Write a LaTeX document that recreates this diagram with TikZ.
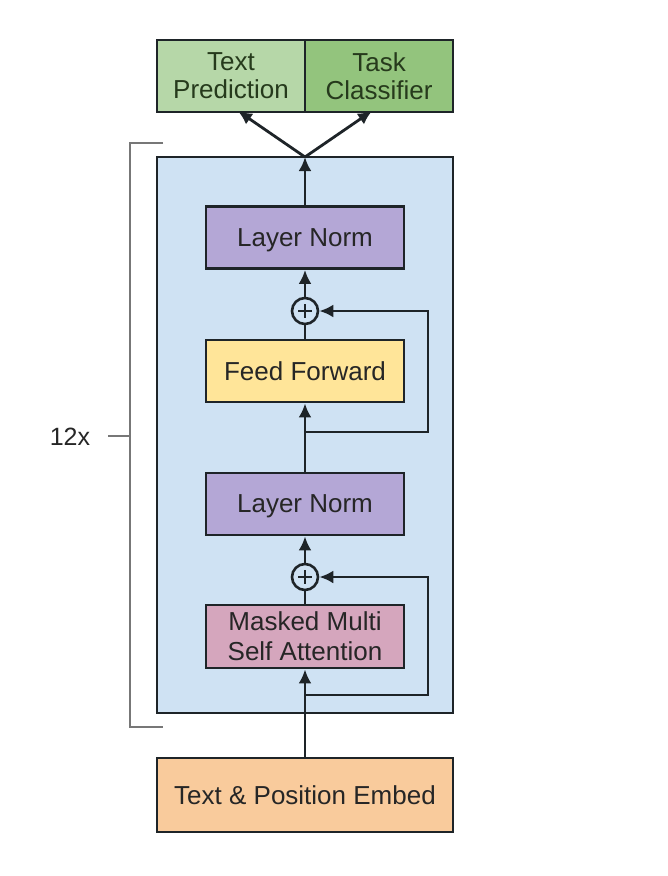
\documentclass[tikz,border=0pt]{standalone}
\usepackage{fontspec}
\setmainfont{Liberation Sans}
\usetikzlibrary{arrows.meta,calc}
\definecolor{edge}{HTML}{1E2428}
\definecolor{txt}{HTML}{262626}
\definecolor{gtxt}{HTML}{263A1C}
\definecolor{gl}{HTML}{B6D7A8}
\definecolor{gd}{HTML}{93C47D}
\definecolor{bluebg}{HTML}{CFE2F3}
\definecolor{purp}{HTML}{B4A7D6}
\definecolor{yel}{HTML}{FFE599}
\definecolor{pink}{HTML}{D5A6BD}
\definecolor{orng}{HTML}{F9CB9C}
\definecolor{brk}{HTML}{777777}
\begin{document}
\begin{tikzpicture}[x=1pt,y=-1pt,
  box/.style={draw=edge,line width=2.8pt,inner sep=0pt,align=center,text=txt,
     font=\fontsize{26}{30}\selectfont},
  oneline/.style={text depth=0pt},
  inner/.style={box,minimum width=198pt,minimum height=62pt},
  plus/.style={draw=edge,line width=2.6pt,circle,minimum size=26pt,inner sep=0pt,fill=bluebg},
  arr/.style={draw=edge,line width=2.8pt,-{Latex[length=14pt,width=13pt]}},
  ln/.style={draw=edge,line width=2.8pt},
  bk/.style={draw=brk,line width=2pt}]
\useasboundingbox (0,0) rectangle (668,876);
\fill[white] (0,0) rectangle (668,876);
% blue container
\node[box,fill=bluebg,minimum width=296pt,minimum height=556pt] (blue) at (305,435) {};
% heads
\node[box,fill=gl,minimum width=148pt,minimum height=72pt,text=gtxt] (tp) at (231,76) {\raisebox{-2pt}{Text}\\[0pt]Prediction};
\node[box,fill=gd,minimum width=148pt,minimum height=72pt,text=gtxt] (tc) at (379,76) {\raisebox{-2pt}{Task}\\[0pt]Classifier};
% blocks
\node[inner,oneline,fill=purp] (ln1) at (305,237.5) {Layer Norm};
\node[plus] (p1) at (305,311) {};
\node[inner,oneline,fill=yel] (ff) at (305,371) {Feed Forward};
\node[inner,oneline,fill=purp] (ln2) at (305,504) {Layer Norm};
\node[plus] (p2) at (305,577) {};
\node[inner,fill=pink,minimum height=63pt] (mm) at (305,636.5) {Masked Multi\\[0pt]Self Attention};
\node[box,oneline,fill=orng,minimum width=296pt,minimum height=74pt] (emb) at (305,795) {Text \& Position Embed};
% plus signs
\draw[ln,line width=2.2pt] ($(p1)+(-7,0)$) -- ($(p1)+(7,0)$) ($(p1)+(0,-7)$) -- ($(p1)+(0,7)$);
\draw[ln,line width=2.2pt] ($(p2)+(-7,0)$) -- ($(p2)+(7,0)$) ($(p2)+(0,-7)$) -- ($(p2)+(0,7)$);
% coordinates
\coordinate (split) at (305,157);
\coordinate (hl) at (238,111);
\coordinate (hr) at (372,111);
\coordinate (s1) at (305,432);
\coordinate (c1a) at (428,432);
\coordinate (c1b) at (428,311);
\coordinate (s2) at (305,695);
\coordinate (c2a) at (428,695);
\coordinate (c2b) at (428,577);
% connectors
\draw[arr] (ln1.north) -- (split);
\draw[arr] (split) -- (hl);
\draw[arr] (split) -- (hr);
\draw[arr] (p1.north) -- (ln1.south);
\draw[ln] (ff.north) -- (p1.south);
\draw[arr] (ln2.north) -- (ff.south);
\draw[arr] (s1) -- (c1a) -- (c1b) -- (p1.east);
\draw[arr] (p2.north) -- (ln2.south);
\draw[ln] (mm.north) -- (p2.south);
\draw[arr] (emb.north) -- (mm.south);
\draw[arr] (s2) -- (c2a) -- (c2b) -- (p2.east);
% bracket
\coordinate (b1) at (163,143);
\coordinate (b2) at (130,143);
\coordinate (b3) at (130,727);
\coordinate (b4) at (163,727);
\coordinate (bm) at (130,436);
\coordinate (bt) at (108,436);
\draw[bk] (b1) -- (b2) -- (b3) -- (b4);
\draw[bk] (bm) -- (bt);
\node[text=txt,font=\fontsize{25}{30}\selectfont] (rep) at (70,437) {12x};
\end{tikzpicture}
\end{document}
